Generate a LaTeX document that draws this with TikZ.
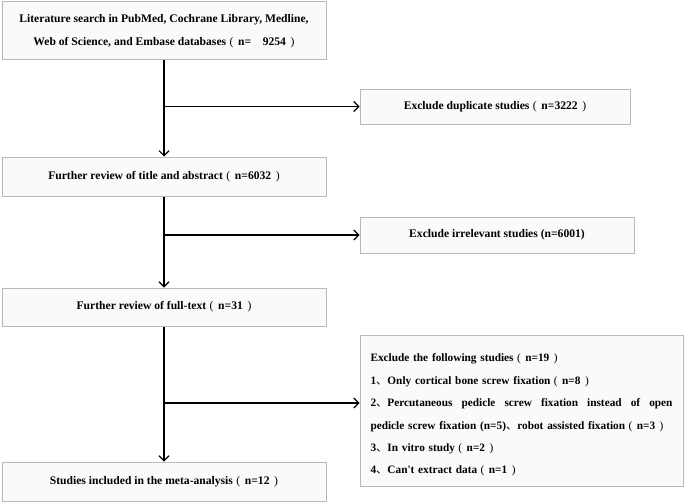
\documentclass[tikz,border=0pt]{standalone}
\usepackage{fontspec}
\setmainfont{Liberation Serif}
\newfontfamily\cjk{Noto Sans CJK SC}
\usetikzlibrary{arrows,arrows.meta,positioning}
\newcommand{\fwl}{\hspace{0.3em}{\mdseries (}\hspace{0.4em}}
\newcommand{\fwr}{\hspace{0.4em}{\mdseries )}}
\newcommand{\dunhao}{{\cjk\mdseries 、}}
\tikzstyle{stage} = [rectangle, minimum width=324pt, minimum height=39pt, align=center, draw=gray!55, line width=1pt, fill=gray!4, font=\bfseries\fontsize{11.6}{23}\selectfont]
\tikzstyle{exclude} = [stage, minimum width=272pt, minimum height=36pt]
\tikzstyle{arrow} = [line width=1.1pt, -{Straight Barb[length=5pt,width=10pt]}]

\begin{document}
\begin{tikzpicture}[x=1pt, y=1pt]
  \useasboundingbox (0,0) rectangle (685,-503);
  \node (search) [stage, minimum height=58pt] at (164,-31) {Literature search in PubMed, Cochrane Library, Medline,\\Web of Science, and Embase databases\fwl n=\quad 9254\fwr};
  \node (title) [stage] at (164,-176.5) {Further review of title and abstract\fwl n=6032\fwr};
  \node (full) [stage, minimum height=38pt] at (164,-307) {Further review of full-text\fwl n=31\fwr};
  \node (incl) [stage] at (164,-481.5) {Studies included in the meta-analysis\fwl n=12\fwr};
  \node (dup) [exclude, minimum width=270pt, minimum height=35pt] at (495,-106.5) {Exclude duplicate studies\fwl n=3222\fwr};
  \node (irrel) [exclude, minimum width=274pt] at (497,-235) {Exclude irrelevant studies (n=6001)};
  \node (excl) [stage, minimum width=323pt, minimum height=144pt, text width=302pt, inner sep=10pt, align=left, font=\bfseries\fontsize{11.3}{22.4}\selectfont] at (521.5,-411) {\rule{0pt}{16pt}Exclude the following studies\fwl n=19\fwr\\
    1\dunhao Only cortical bone screw fixation\fwl n=8\fwr\\
    \makebox[\linewidth][s]{\spaceskip=0pt 2\dunhao Percutaneous pedicle screw fixation instead of open}\\
    \mbox{pedicle screw fixation (n=5)\dunhao robot assisted fixation\fwl n=3\fwr}\\
    3\dunhao In vitro study\fwl n=2\fwr\\
    4\dunhao Can\textquotesingle t extract data\fwl n=1\fwr};
  % branch points on the main line
  \coordinate (b1) at (search.south |- dup.west);
  \coordinate (b2) at (title.south |- irrel.west);
  \coordinate (b3) at (164,-403);
  \draw [arrow] (search) -- (title);
  \draw [arrow] (b1) -- (dup.west);
  \draw [arrow] (title) -- (full);
  \draw [arrow] (b2) -- (irrel.west);
  \draw [arrow] (full) -- (incl);
  \draw [arrow] (b3) -- (b3 -| excl.west);
\end{tikzpicture}
\end{document}
